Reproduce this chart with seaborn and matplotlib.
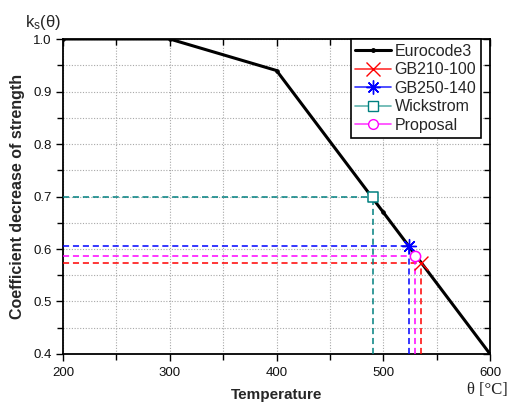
import matplotlib
matplotlib.use("Agg")
import matplotlib.pyplot as plt
from matplotlib.lines import Line2D
from matplotlib.ticker import MultipleLocator, FormatStrFormatter
import seaborn as sns
import pandas as pd

# Eurocode 3 reduction curve
euro_temp = [200, 300, 400, 500, 600]
euro_k = [1.0, 1.0, 0.94, 0.67, 0.40]

# Critical points from each method
methods = ["GB210-100", "GB250-140", "Wickstrom", "Proposal"]
method_temp = [535, 524, 490, 530]
method_k = [0.574, 0.605, 0.70, 0.586]
method_colors = ["#ff0000", "#0000ff", "#008080", "#ff00ff"]
legend_colors = ["#ff3030", "#3030ff", "#5fb3ad", "#ff40ff"]
asterisk = (8, 2, 0)
method_markers = ["x", asterisk, "s", "o"]

sns.set_theme(style="white")
plt.rcParams["font.family"] = ["Liberation Sans", "DejaVu Sans"]

fig = plt.figure(figsize=(5.18, 4.03), dpi=100)
ax = fig.add_axes([0.1216, 0.1216, 0.8244, 0.7816])

euro_df = pd.DataFrame({"temp": euro_temp, "k": euro_k})
sns.lineplot(data=euro_df, x="temp", y="k", ax=ax, color="black", lw=2.2,
             marker="o", markersize=2.5, markeredgecolor="black",
             zorder=5, legend=False)

# Dashed guides to the axes
for t, k, c in zip(method_temp, method_k, method_colors):
    ax.plot([200, t], [k, k], ls=(0, (4, 2.5)), color=c, lw=1.1, zorder=3)
    ax.plot([t, t], [0.4, k], ls=(0, (4, 2.5)), color=c, lw=1.1, zorder=3)

pts = pd.DataFrame({"temp": method_temp, "k": method_k, "method": methods})
for m, c, mk in zip(methods, method_colors, method_markers):
    sub = pts[pts["method"] == m]
    if mk in ("s", "o"):
        sns.scatterplot(data=sub, x="temp", y="k", ax=ax, marker=mk, s=55,
                        facecolor="white", edgecolor=c, linewidth=1.1,
                        zorder=6, legend=False)
    else:
        sns.scatterplot(data=sub, x="temp", y="k", ax=ax, marker=mk, s=100,
                        color=c, edgecolor=c, linewidth=1.0, zorder=6,
                        legend=False)

ax.set_xlim(200, 600)
ax.set_ylim(0.4, 1.0)
ax.xaxis.set_major_locator(MultipleLocator(100))
ax.xaxis.set_minor_locator(MultipleLocator(50))
ax.yaxis.set_major_locator(MultipleLocator(0.1))
ax.yaxis.set_minor_locator(MultipleLocator(0.05))
ax.yaxis.set_major_formatter(FormatStrFormatter("%.1f"))

ax.grid(True, which="both", color="#a8a8a8", ls=(0, (1, 1.5)), lw=0.8)
for s in ax.spines.values():
    s.set_color("black")
    s.set_linewidth(1.3)

# Inward ticks on top/right, outward on bottom/left
ax.tick_params(which="both", top=True, right=True, bottom=True, left=True,
               direction="in", color="black", labelsize=9.5,
               labelcolor="#111111", labeltop=False, labelright=False,
               pad=8)
ax.tick_params(axis="x", which="both", pad=9.5)
ax.tick_params(which="major", length=5, width=1.0)
ax.tick_params(which="minor", length=4, width=1.0)
for tick in ax.xaxis.get_major_ticks() + ax.xaxis.get_minor_ticks():
    tick.tick1line.set_marker(3)
for tick in ax.yaxis.get_major_ticks() + ax.yaxis.get_minor_ticks():
    tick.tick1line.set_marker(0)

ax.set_xlabel("Temperature", fontsize=11, fontweight="bold", labelpad=6)
ax.set_ylabel("Coefficient decrease of strength", fontsize=11.5,
              fontweight="bold", labelpad=6)

fig.text(0.048, 0.945, r"$\mathregular{k_s(\theta)}$", fontsize=12,
         ha="left", va="center")
fig.text(0.98, 0.032, "θ [°C]", fontsize=12, ha="right", va="center",
         family=["Liberation Serif", "DejaVu Serif"], color="#222222")

handles = [Line2D([], [], color="black", lw=2.2, marker="o", markersize=2.5,
                  label="Eurocode3")]
for m, c, mc, mk in zip(methods, legend_colors, method_colors, method_markers):
    if mk in ("s", "o"):
        handles.append(Line2D([], [], color=c, lw=1.2, marker=mk,
                              markersize=7, markerfacecolor="white",
                              markeredgecolor=mc, label=m))
    else:
        handles.append(Line2D([], [], color=c, lw=1.2, marker=mk,
                              markersize=10, markeredgewidth=1.0,
                              markeredgecolor=mc, label=m))
leg = ax.legend(handles=handles, loc="upper right",
                bbox_to_anchor=(0.979, 1.0), fontsize=11.5, frameon=True,
                fancybox=False, edgecolor="black", framealpha=1,
                handlelength=2.2, handletextpad=0.25, borderpad=0.3,
                labelspacing=0.22, borderaxespad=0.0)
leg.get_frame().set_linewidth(1.2)

fig.savefig("out.png", dpi=100)
